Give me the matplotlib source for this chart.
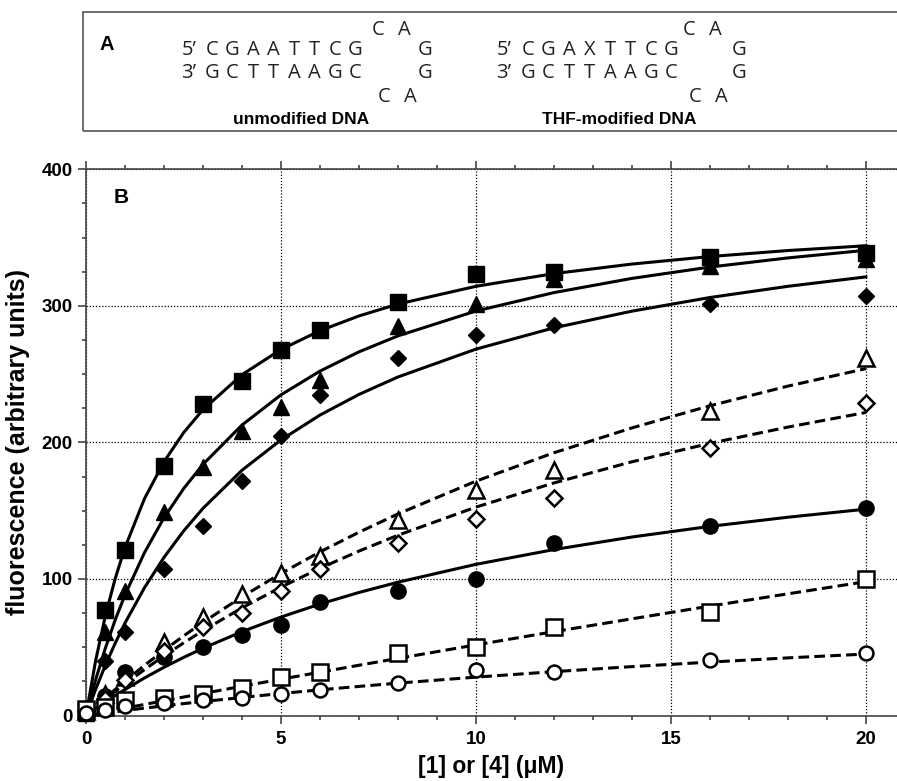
import matplotlib
matplotlib.use("Agg")
import matplotlib.pyplot as plt
from matplotlib.patches import Rectangle
from matplotlib.ticker import MultipleLocator

W, H = 897, 781

# concentrations of [1] or [4] (uM)
conc = [0, 0.5, 1, 2, 3, 4, 5, 6, 8, 10, 12, 16, 20]

sq_filled = [4, 77, 121, 183, 228, 245, 268, 282, 303, 323, 325, 336, 339]
tri_filled = [2, 61, 91, 149, 182, 208, 226, 246, 285, 301, 320, 329, 334]
dia_filled = [2, 40, 61, 107, 139, 172, 205, 235, 262, 279, 286, 301, 307]
circ_filled = [2, 14, 32, 43, 50, 59, 66, 83, 91, 100, 126, 139, 152]
tri_open = [3, 16, 28, 54, 72, 89, 104, 117, 143, 165, 180, 223, 262]
dia_open = [3, 12, 26, 47, 65, 75, 91, 107, 126, 144, 159, 196, 229]
sq_open = [5, 6, 11, 13, 16, 20, 28, 32, 46, 50, 65, 76, 100]
circ_open = [2, 4, 7, 9, 11, 13, 16, 19, 24, 33, 32, 41, 46]

# fitted binding curves, sampled off the figure
fit_x = [0, 0.25, 0.5, 0.75, 1, 1.5, 2, 2.5, 3, 4, 5, 6, 7, 8, 10, 12, 14, 16, 18, 20]
fit_sq_filled = [0, 40.6, 73.4, 100.4, 123.0, 158.8, 185.8, 207.0, 224.0, 249.6, 268.0,
                 281.8, 292.6, 301.3, 314.3, 323.6, 330.6, 336.1, 340.5, 344.0]
fit_tri_filled = [0, 26.5, 49.6, 70.1, 88.3, 119.3, 144.8, 166.0, 183.9, 212.7, 234.8,
                  252.2, 266.3, 278.0, 296.2, 309.7, 320.1, 328.4, 335.1, 340.7]
fit_dia_filled = [0, 19.4, 37.0, 53.0, 67.7, 93.6, 115.8, 135.0, 151.7, 179.6, 201.8,
                  220.0, 235.1, 247.9, 268.3, 283.9, 296.1, 306.1, 314.3, 321.2]
fit_circ_filled = [0, 5.1, 9.9, 14.6, 19.0, 27.5, 35.3, 42.5, 49.2, 61.4, 72.1,
                   81.6, 90.1, 97.6, 110.7, 121.5, 130.7, 138.5, 145.2, 151.1]
fit_tri_open = [0, 6.5, 12.9, 19.1, 25.1, 36.7, 47.7, 58.2, 68.2, 86.9, 104.0,
                119.8, 134.2, 147.6, 171.6, 192.4, 210.6, 226.8, 241.2, 254.0]
fit_dia_open = [0, 6.0, 11.9, 17.6, 23.1, 33.6, 43.7, 53.1, 62.1, 78.8, 94.0,
                107.8, 120.4, 132.0, 152.6, 170.3, 185.8, 199.3, 211.2, 221.9]
fit_sq_open = [0, 1.4, 2.7, 4.1, 5.4, 8.1, 10.8, 13.5, 16.1, 21.4, 26.6,
               31.7, 36.8, 41.8, 51.7, 61.4, 70.8, 80.1, 89.1, 98.0]
fit_circ_open = [0, 0.9, 1.8, 2.7, 3.6, 5.4, 7.0, 8.7, 10.2, 13.2, 16.1,
                 18.8, 21.3, 23.7, 28.1, 32.1, 35.8, 39.1, 42.2, 45.0]

# panel A hairpins
stem_top = [['C', 'G', 'A', 'A', 'T', 'T', 'C', 'G'], ['C', 'G', 'A', 'X', 'T', 'T', 'C', 'G']]
stem_bottom = ['G', 'C', 'T', 'T', 'A', 'A', 'G', 'C']
hairpin_names = ['unmodified DNA', 'THF-modified DNA']

plt.rcParams['font.family'] = ['Liberation Sans', 'DejaVu Sans']

fig = plt.figure(figsize=(W / 100, H / 100), dpi=100)


def fx(px):
    return px / W


def fy(py):
    return 1 - py / H


# ---- panel A: hairpin sequences ----
fig.patches.append(Rectangle((fx(83), fy(131)), fx(830), fy(12) - fy(131),
                             transform=fig.transFigure, fill=False,
                             edgecolor='#555555', lw=1.2))
fig.text(fx(107), fy(44), 'A', fontsize=14.5, fontweight='bold', ha='center', va='center')

seq_font = dict(family='Open Sans', fontsize=14.5, va='center', ha='center', color='#222222')
step = 20.5
# (5' x, first letter x, loop G x, top C x, bottom C x, label x)
layout = [(189, 212, 425, 378, 384, 301), (504, 528, 739, 689, 695, 619)]
for k, (px5, x0, gx, ctop, cbot, labx) in enumerate(layout):
    fig.text(fx(px5), fy(50), '5\u2019', **seq_font)
    fig.text(fx(px5), fy(73), '3\u2019', **seq_font)
    for i in range(8):
        fig.text(fx(x0 + i * step), fy(50), stem_top[k][i], **seq_font)
        fig.text(fx(x0 + i * step), fy(73), stem_bottom[i], **seq_font)
    fig.text(fx(gx), fy(50), 'G', **seq_font)
    fig.text(fx(gx), fy(73), 'G', **seq_font)
    fig.text(fx(ctop), fy(30), 'C', **seq_font)
    fig.text(fx(ctop + 26), fy(30), 'A', **seq_font)
    fig.text(fx(cbot), fy(97), 'C', **seq_font)
    fig.text(fx(cbot + 26), fy(97), 'A', **seq_font)
    fig.text(fx(labx), fy(119), hairpin_names[k], ha='center', va='center',
             fontsize=12.5, fontweight='bold')

# ---- panel B: titration ----
ax = fig.add_axes((fx(86), fy(715.5), fx(811), fy(169.3) - fy(715.5)))
ax.set_xlim(0, 20.8)
ax.set_ylim(0, 400)

lw = 2.2
ax.plot(fit_x, fit_sq_filled, '-', color='k', lw=lw)
ax.plot(fit_x, fit_tri_filled, '-', color='k', lw=lw)
ax.plot(fit_x, fit_dia_filled, '-', color='k', lw=lw)
ax.plot(fit_x, fit_circ_filled, '-', color='k', lw=lw)
dash = (0, (3.5, 1.7))
ax.plot(fit_x, fit_tri_open, linestyle=dash, color='k', lw=lw)
ax.plot(fit_x, fit_dia_open, linestyle=dash, color='k', lw=lw)
ax.plot(fit_x, fit_sq_open, linestyle=dash, color='k', lw=lw)
ax.plot(fit_x, fit_circ_open, linestyle=dash, color='k', lw=lw)

mk = dict(linestyle='none', clip_on=False, zorder=4)
ax.plot(conc, sq_filled, marker='s', ms=11, color='k', **mk)
ax.plot(conc, tri_filled, marker='^', ms=12, color='k', **mk)
ax.plot(conc, dia_filled, marker='D', ms=8.5, color='k', **mk)
ax.plot(conc, circ_filled, marker='o', ms=11, color='k', **mk)
op = dict(mfc='white', mec='k', mew=1.8, **mk)
ax.plot(conc, tri_open, marker='^', ms=12, **op)
ax.plot(conc, dia_open, marker='D', ms=8.5, **op)
ax.plot(conc, sq_open, marker='s', ms=11, **op)
ax.plot(conc, circ_open, marker='o', ms=10, **op)

ax.xaxis.set_major_locator(MultipleLocator(5))
ax.xaxis.set_minor_locator(MultipleLocator(1))
ax.yaxis.set_major_locator(MultipleLocator(100))
ax.yaxis.set_minor_locator(MultipleLocator(25))
ax.grid(True, which='major', linestyle=(0, (1, 1.5)), color='k', lw=0.9)
ax.set_axisbelow(True)

for side in ['left', 'top', 'bottom']:
    ax.spines[side].set_color('#444444')
    ax.spines[side].set_linewidth(1.2)
ax.spines['right'].set_visible(False)
ax.tick_params(which='both', direction='out', top=True, right=False,
               color='#444444', width=1.2)
ax.tick_params(which='major', length=6, labelsize=13.5)
ax.tick_params(which='minor', length=3)
ax.tick_params(axis='x', labeltop=False, pad=5)
for lbl in ax.get_xticklabels() + ax.get_yticklabels():
    lbl.set_fontweight('bold')

ax.set_xlabel('[1] or [4] (\u03bcM)', fontsize=16.5, fontweight='bold')
ax.set_ylabel('fluorescence (arbitrary units)', fontsize=18, fontweight='bold')
ax.xaxis.set_label_coords(0.5, (715.5 - 755) / 546.2)
ax.yaxis.set_label_coords((30 - 86) / 811, 0.5)

ax.text(fx(125) - fx(86), 1 - (197 - 169.3) / 546.2, 'B', transform=ax.transAxes,
        fontsize=15, fontweight='bold', ha='center', va='center')

fig.savefig('out.png', dpi=100)
